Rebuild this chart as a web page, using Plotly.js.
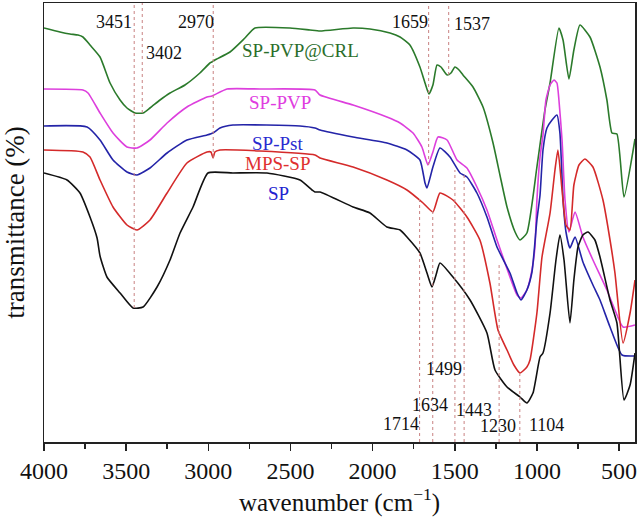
<!DOCTYPE html>
<html>
<head>
<meta charset="utf-8">
<script src="https://cdn.plot.ly/plotly-3.0.1.min.js"></script>
<style>html,body{margin:0;padding:0;background:#fff;}#chart{width:640px;height:519px;}</style>
</head>
<body>
<div id="chart"></div>
<script>
// Wavenumbers (cm^-1) and transmittance (arbitrary offset units)
const wnCRL = [4000,3903,3842,3793,3763,3720,3659,3598,3537,3495,3446,3397,3355,3294,3233,3142,3051,2990,2978,2960,2868,2777,2716,2503,2381,2320,2119,2016,1894,1833,1773,1712,1681,1657,1633,1608,1584,1547,1523,1499,1474,1450,1389,1328,1267,1225,1182,1133,1103,1061,1000,951,920,866,841,805,775,738,677,616,574,543,513,470,403];
const tCRL  = [414,410,408,407,405,397,385,359,342,334,329,329,334,342,349,357,369,379,380,382,390,404,414,414,412,411,414,413,409,405,397,375,359,348,357,377,375,367,369,375,372,367,355,335,299,267,235,210,202,209,275,332,359,414,402,363,392,417,405,375,342,309,308,245,303];

const wnPVP = [4000,3763,3732,3659,3580,3495,3434,3355,3251,3130,3008,2978,2886,2686,2351,2320,2119,1913,1833,1754,1700,1663,1633,1602,1547,1486,1426,1365,1304,1243,1164,1121,1097,1061,1030,1012,1000,981,963,945,920,896,878,866,847,829,805,768,720,659,574,525,476,403];
const tPVP  = [353,352,349,329,309,295,294,302,319,335,345,346,353,353,352,347,337,325,319,309,295,277,290,305,302,282,274,255,232,202,165,147,144,152,172,195,242,285,307,342,357,362,359,342,302,242,210,230,205,182,152,132,115,117];

const wnPst = [4000,3738,3659,3580,3495,3434,3355,3251,3130,3008,2971,2929,2850,2442,2351,2320,2119,1913,1791,1712,1681,1669,1633,1590,1529,1468,1426,1365,1304,1243,1164,1121,1097,1061,1030,1000,981,963,939,908,878,860,841,823,799,768,720,659,616,555,482,403];
const tPst  = [316,315,302,282,270,267,274,289,302,307,309,314,317,316,314,312,305,299,292,282,259,254,275,294,285,269,265,249,225,195,169,149,142,152,170,222,247,292,314,322,327,309,242,210,194,205,180,157,142,115,87,86];

const wnMPS = [4000,3763,3720,3659,3580,3495,3434,3355,3251,3130,3008,2984,2971,2960,2929,2686,2351,2320,2119,1913,1791,1693,1633,1590,1511,1426,1347,1286,1237,1182,1140,1103,1061,1042,1000,969,920,890,872,847,823,799,775,744,708,659,598,555,525,476,433,403];
const tMPS  = [292,290,285,262,235,217,212,222,249,279,290,290,284,290,292,291,287,284,275,262,252,239,230,249,242,225,202,159,112,92,77,69,75,82,129,185,229,272,292,252,217,212,257,277,283,275,242,202,169,99,129,162];

const wnSP = [4000,3860,3781,3720,3677,3659,3617,3537,3458,3397,3312,3233,3172,3093,3002,2850,2643,2442,2369,2351,2320,2119,2016,1913,1833,1791,1712,1669,1639,1614,1590,1511,1407,1304,1255,1182,1103,1061,1024,981,963,920,884,860,835,799,775,750,720,689,647,616,555,513,470,433,403];
const tSP  = [269,262,249,225,204,186,165,149,134,135,155,182,209,235,269,269,269,262,252,250,250,235,229,215,212,205,189,169,155,167,179,165,142,109,72,55,45,39,49,85,89,129,182,207,182,119,162,195,207,210,202,185,142,119,42,57,89];

const seriesNames  = ["SP-PVP@CRL","SP-PVP","SP-Pst","MPS-SP","SP"];
const seriesColors = ["#2b7a2b","#dd3fdd","#2424a8","#d42a2a","#111111"];
const labelColors  = ["#2b6e2b","#e03ce0","#2a2ad0","#e03030","#2222d0"];
const labelWn      = [2436,2564,2576,2576,2570];
const labelT       = [392,340,299,279,249];

// Marked peaks: wavenumber, label position, dashed line extent
const peakWn     = [3451,3402,2970,1659,1537,1714,1634,1499,1443,1230,1104];
const peakLblWn  = [3574,3270,3075,1773,1395,1827,1651,1566,1383,1237,939];
const peakLblT   = [420,389,420,420,418,18,37,73,32,16,17];
const peakLineLo = [134,329,284,277,367,0,0,0,0,0,0];
const peakLineHi = [440,440,440,440,440,245,232,272,267,177,69];

const xs = [wnCRL,wnPVP,wnPst,wnMPS,wnSP];
const ys = [tCRL,tPVP,tPst,tMPS,tSP];

const traces = seriesNames.map((n,i)=>({
  x: xs[i], y: ys[i], name: n, type: 'scatter', mode: 'lines',
  line: {color: seriesColors[i], width: 1.6, shape: 'spline', smoothing: 0.5},
  showlegend: false, hoverinfo: 'skip'
}));

const serif = "'Liberation Serif', 'Times New Roman', serif";
const annotations = [];
seriesNames.forEach((n,i)=>annotations.push({
  x: labelWn[i], y: labelT[i], xref:'x', yref:'y', text: n, showarrow:false,
  font:{family: serif, size: 19, color: labelColors[i]}
}));
peakWn.forEach((p,i)=>annotations.push({
  x: peakLblWn[i], y: peakLblT[i], xref:'x', yref:'y', text: String(p), showarrow:false,
  font:{family: serif, size: 18, color: '#111'}
}));

const shapes = peakWn.map((p,i)=>({
  type:'line', xref:'x', yref:'y', x0:p, x1:p, y0:peakLineLo[i], y1:peakLineHi[i],
  line:{color:'#c98282', width:1, dash:'dot'}
}));

const layout = {
  width: 640, height: 519,
  margin: {l:44, r:5, t:3, b:77},
  paper_bgcolor:'#fff', plot_bgcolor:'#fff',
  font: {family: serif, color:'#111'},
  xaxis: {
    range:[4000,403], showgrid:false, zeroline:false,
    showline:true, mirror:true, linecolor:'#222', linewidth:1.5,
    ticks:'outside', ticklen:7, tickwidth:1.5, tickcolor:'#222',
    dtick:500, tick0:500,
    minor:{ticks:'outside', dtick:250, ticklen:5, tickwidth:1.5, tickcolor:'#222'},
    tickfont:{family: serif, size:24, color:'#111'},
    title:{text:'wavenumber (cm<sup>−1</sup>)', font:{family: serif, size:25, color:'#111'}, standoff:8}
  },
  yaxis: {
    range:[0,439], showgrid:false, zeroline:false, showticklabels:false,
    showline:true, mirror:true, linecolor:'#222', linewidth:1.5, ticks:'',
    title:{text:'transmittance (%)', font:{family: serif, size:27, color:'#111'}, standoff:12}
  },
  shapes: shapes,
  annotations: annotations
};

Plotly.newPlot('chart', traces, layout, {displayModeBar:false, staticPlot:true});
</script>
</body>
</html>
